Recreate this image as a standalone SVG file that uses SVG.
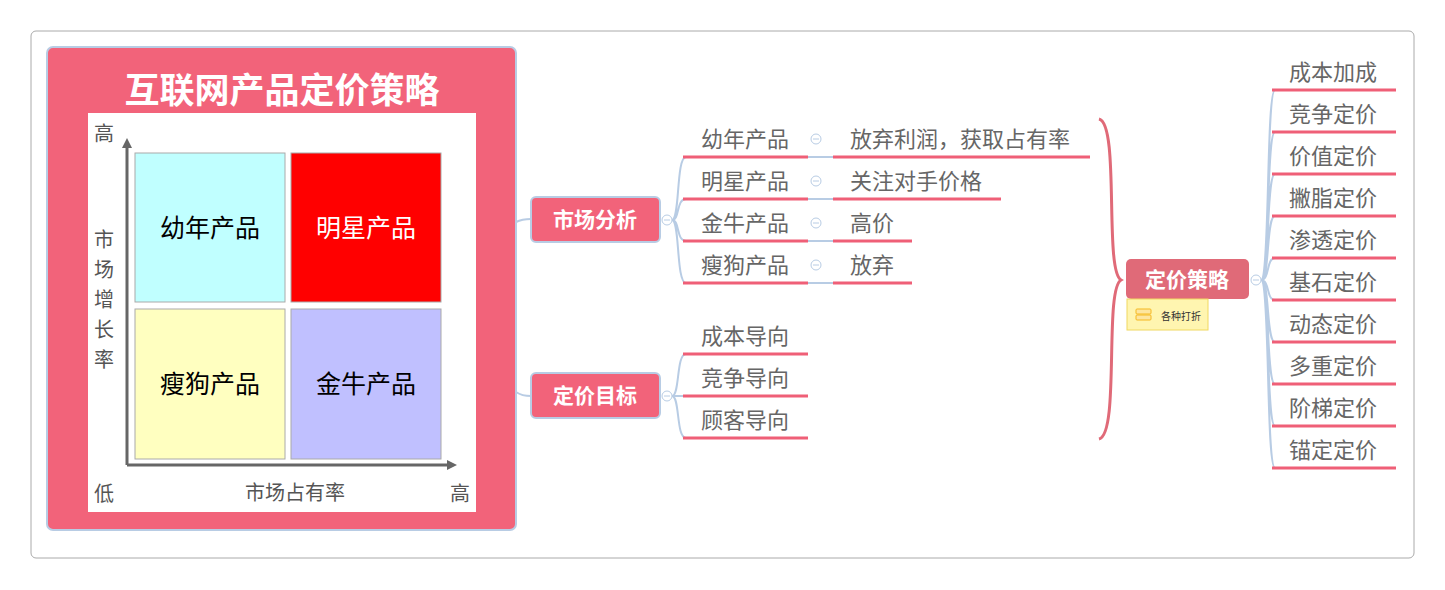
<svg xmlns="http://www.w3.org/2000/svg" width="1445" height="590" viewBox="0 0 1445 590">
<style>
text{font-family:"Liberation Sans","Noto Sans CJK SC",sans-serif}
.q{font-size:25px;text-anchor:middle}
.ax{font-size:20px;fill:#555;text-anchor:middle}
.mn{fill:#f2637a;stroke:#b8cce4;stroke-width:2}
.mt{font-size:21px;fill:#fff;text-anchor:middle;font-weight:bold}
.ct{font-size:22px;fill:#666}
.ul{stroke:#ef5f77;stroke-width:3}
.cn{fill:none;stroke:#b8cce4;stroke-width:2}
.cc{fill:#fff;stroke:#b8cce4;stroke-width:1}
</style>
<defs><marker id="ar" markerWidth="10" markerHeight="10" refX="5" refY="5" orient="auto" markerUnits="userSpaceOnUse"><path d="M0,0 L10,5 L0,10 Z" fill="#666"/></marker></defs>
<rect x="31" y="31" width="1383" height="527" rx="5" fill="#fff" stroke="#aaa"/>
<g id="matrix">
<rect x="47" y="47" width="469" height="483" rx="6" fill="#f2637a" stroke="#b8cce4" stroke-width="2"/>
<text x="282" y="103" font-size="35" font-weight="bold" fill="#fff" text-anchor="middle">互联网产品定价策略</text>
<rect x="88" y="113" width="388" height="399" fill="#fff"/>
<rect x="135" y="153" width="150" height="149" fill="#c0ffff" stroke="#aaa"/>
<rect x="291" y="153" width="150" height="149" fill="#ff0000" stroke="#aaa"/>
<rect x="135" y="309" width="150" height="150" fill="#ffffc0" stroke="#aaa"/>
<rect x="291" y="309" width="150" height="150" fill="#c0c0ff" stroke="#aaa"/>
<text class="q" x="210" y="237">幼年产品</text>
<text class="q" x="366" y="237" fill="#fff">明星产品</text>
<text class="q" x="210" y="393">瘦狗产品</text>
<text class="q" x="366" y="393">金牛产品</text>
<line x1="127" y1="465" x2="127" y2="143" stroke="#666" stroke-width="3" marker-end="url(#ar)"/>
<line x1="127" y1="465" x2="452" y2="465" stroke="#666" stroke-width="3" marker-end="url(#ar)"/>
<text class="ax" x="104" y="141">高</text>
<text class="ax" x="104" y="501">低</text>
<text class="ax" x="460" y="501">高</text>
<text class="ax" x="295" y="500">市场占有率</text>
<text class="ax" x="104" y="247">市</text><text class="ax" x="104" y="277">场</text><text class="ax" x="104" y="307">增</text><text class="ax" x="104" y="337">长</text><text class="ax" x="104" y="367">率</text>
</g>
<g id="connectors">
<path class="cn" d="M516,222 Q522,219 531,219"/>
<path class="cn" d="M516,392 Q522,396 531,396"/>
<path class="cn" d="M672,220 C680,220 676,157 686,157 M672,220 C680,220 676,199 686,199 M672,220 C680,220 676,241 686,241 M672,220 C680,220 676,283 686,283"/>
<path class="cn" d="M672,396 C680,396 676,354 686,354 M672,396 L686,396 M672,396 C680,396 676,438 686,438"/>
<path class="cn" d="M808,157 H833 M808,199 H833 M808,241 H833 M808,283 H833"/>
<path class="cn" d="M1261,280 C1270,280 1266,90 1275,90 M1261,280 C1270,280 1266,132 1275,132 M1261,280 C1270,280 1266,174 1275,174 M1261,280 C1270,280 1266,216 1275,216 M1261,280 C1270,280 1266,258 1275,258 M1261,280 C1270,280 1266,300 1275,300 M1261,280 C1270,280 1266,342 1275,342 M1261,280 C1270,280 1266,384 1275,384 M1261,280 C1270,280 1266,426 1275,426 M1261,280 C1270,280 1266,468 1275,468"/>
<path d="M1099,119 C1120,124 1104,270 1121,280 C1104,290 1120,434 1099,439" fill="none" stroke="#e06a78" stroke-width="3"/>
</g>
<g id="n-market"><rect class="mn" x="531" y="197" width="129" height="45" rx="5"/><text class="mt" x="595" y="227">市场分析</text><circle class="cc" cx="667" cy="220" r="5"/><line x1="664" y1="220" x2="670" y2="220" stroke="#b8cce4"/></g>
<g id="n-target"><rect class="mn" x="531" y="373" width="129" height="45" rx="5"/><text class="mt" x="595" y="403">定价目标</text><circle class="cc" cx="667" cy="396" r="5"/><line x1="664" y1="396" x2="670" y2="396" stroke="#b8cce4"/></g>
<g id="c1"><text class="ct" x="701" y="147">幼年产品</text><line class="ul" x1="683" y1="157" x2="808" y2="157"/><circle class="cc" cx="816" cy="139" r="5"/><line x1="813" y1="139" x2="819" y2="139" stroke="#b8cce4"/><text class="ct" x="850" y="147">放弃利润，获取占有率</text><line class="ul" x1="833" y1="157" x2="1090" y2="157"/></g>
<g id="c2"><text class="ct" x="701" y="189">明星产品</text><line class="ul" x1="683" y1="199" x2="808" y2="199"/><circle class="cc" cx="816" cy="181" r="5"/><line x1="813" y1="181" x2="819" y2="181" stroke="#b8cce4"/><text class="ct" x="850" y="189">关注对手价格</text><line class="ul" x1="833" y1="199" x2="1001" y2="199"/></g>
<g id="c3"><text class="ct" x="701" y="231">金牛产品</text><line class="ul" x1="683" y1="241" x2="808" y2="241"/><circle class="cc" cx="816" cy="223" r="5"/><line x1="813" y1="223" x2="819" y2="223" stroke="#b8cce4"/><text class="ct" x="850" y="231">高价</text><line class="ul" x1="833" y1="241" x2="912" y2="241"/></g>
<g id="c4"><text class="ct" x="701" y="273">瘦狗产品</text><line class="ul" x1="683" y1="283" x2="808" y2="283"/><circle class="cc" cx="816" cy="265" r="5"/><line x1="813" y1="265" x2="819" y2="265" stroke="#b8cce4"/><text class="ct" x="850" y="273">放弃</text><line class="ul" x1="833" y1="283" x2="912" y2="283"/></g>
<g id="t1"><text class="ct" x="701" y="344">成本导向</text><line class="ul" x1="683" y1="354" x2="808" y2="354"/></g>
<g id="t2"><text class="ct" x="701" y="386">竞争导向</text><line class="ul" x1="683" y1="396" x2="808" y2="396"/></g>
<g id="t3"><text class="ct" x="701" y="428">顾客导向</text><line class="ul" x1="683" y1="438" x2="808" y2="438"/></g>
<g id="n-strategy"><rect x="1126" y="259" width="123" height="40" rx="5" fill="#e06a78"/><text class="mt" x="1187" y="287">定价策略</text>
<rect x="1127" y="299" width="81" height="31" fill="#fff5b0" stroke="#f0d860"/><rect x="1136" y="309" width="15" height="5" rx="1" fill="#fde6a0" stroke="#f5b820"/><rect x="1136" y="315" width="15" height="5" rx="1" fill="#fde6a0" stroke="#f5b820"/><text x="1161" y="320" font-size="10" fill="#333">各种打折</text>
<circle class="cc" cx="1256" cy="280" r="5"/><line x1="1253" y1="280" x2="1259" y2="280" stroke="#b8cce4"/></g>
<g id="s1"><text class="ct" x="1289" y="80">成本加成</text><line class="ul" x1="1272" y1="90" x2="1396" y2="90"/></g>
<g id="s2"><text class="ct" x="1289" y="122">竞争定价</text><line class="ul" x1="1272" y1="132" x2="1396" y2="132"/></g>
<g id="s3"><text class="ct" x="1289" y="164">价值定价</text><line class="ul" x1="1272" y1="174" x2="1396" y2="174"/></g>
<g id="s4"><text class="ct" x="1289" y="206">撇脂定价</text><line class="ul" x1="1272" y1="216" x2="1396" y2="216"/></g>
<g id="s5"><text class="ct" x="1289" y="248">渗透定价</text><line class="ul" x1="1272" y1="258" x2="1396" y2="258"/></g>
<g id="s6"><text class="ct" x="1289" y="290">基石定价</text><line class="ul" x1="1272" y1="300" x2="1396" y2="300"/></g>
<g id="s7"><text class="ct" x="1289" y="332">动态定价</text><line class="ul" x1="1272" y1="342" x2="1396" y2="342"/></g>
<g id="s8"><text class="ct" x="1289" y="374">多重定价</text><line class="ul" x1="1272" y1="384" x2="1396" y2="384"/></g>
<g id="s9"><text class="ct" x="1289" y="416">阶梯定价</text><line class="ul" x1="1272" y1="426" x2="1396" y2="426"/></g>
<g id="s10"><text class="ct" x="1289" y="458">锚定定价</text><line class="ul" x1="1272" y1="468" x2="1396" y2="468"/></g>
</svg>
